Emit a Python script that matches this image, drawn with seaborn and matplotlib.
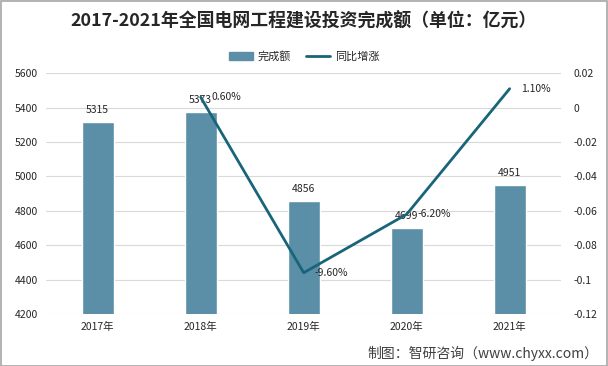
import seaborn as sns
import matplotlib.pyplot as plt
import pandas as pd
from matplotlib.patches import Patch
from matplotlib.lines import Line2D

years = ['2017年', '2018年', '2019年', '2020年', '2021年']
amount = [5315, 5373, 4856, 4699, 4951]
growth_years = ['2018年', '2019年', '2020年', '2021年']
growth = [0.006, -0.096, -0.062, 0.011]
growth_labels = ['0.60%', '-9.60%', '-6.20%', '1.10%']

sns.set_style('white')
plt.rcParams['font.family'] = ['Noto Sans CJK SC', 'DejaVu Sans']
plt.rcParams['axes.unicode_minus'] = False

bar_color = '#5b8fa8'
line_color = '#18657a'

df = pd.DataFrame({'year': years, 'amount': amount})

fig = plt.figure(figsize=(6.08, 3.66), dpi=100)
ax = fig.add_axes([0.076, 0.142, 0.847, 0.658])

sns.barplot(data=df, x='year', y='amount', color=bar_color, width=0.31,
            saturation=1, ax=ax, zorder=2)
ax.set_ylim(4200, 5600)
ax.set_yticks(range(4200, 5601, 200))
ax.grid(axis='y', color='#d9d9d9', linewidth=0.8, zorder=0)
ax.set_axisbelow(True)
ax.set_xlabel('')
ax.set_ylabel('')
ax.tick_params(axis='both', labelsize=7.5, length=0, pad=6)
for s in ax.spines.values():
    s.set_visible(False)
for i, v in enumerate(amount):
    ax.annotate(str(v), (i, v), xytext=(0, 5), textcoords='offset points',
                ha='center', va='bottom', fontsize=7.5)

ax2 = ax.twinx()
xpos = [years.index(y) for y in growth_years]
sns.lineplot(x=xpos, y=growth, color=line_color, linewidth=2, ax=ax2)
ax2.set_ylim(-0.12, 0.02)
ax2.set_yticks([-0.12, -0.1, -0.08, -0.06, -0.04, -0.02, 0, 0.02])
ax2.set_yticklabels(['-0.12', '-0.1', '-0.08', '-0.06', '-0.04', '-0.02', '0', '0.02'])
ax2.tick_params(axis='y', labelsize=7.5, length=0, pad=9)
ax2.set_ylabel('')
for s in ax2.spines.values():
    s.set_visible(False)
for x, v, t in zip(xpos, growth, growth_labels):
    ax2.annotate(t, (x, v), xytext=(8, 0), textcoords='offset points',
                 ha='left', va='center', fontsize=7.5)
ax.set_xlim(-0.5, 4.5)

fig.suptitle('2017-2021年全国电网工程建设投资完成额（单位：亿元）',
             y=0.965, fontsize=12.9, fontweight='bold')

handles = [Patch(color=bar_color), Line2D([], [], color=line_color, linewidth=2)]
fig.legend(handles, ['完成额', '同比增涨'], loc='center', bbox_to_anchor=(0.5, 0.845),
           ncol=2, frameon=False, fontsize=8, handlelength=2.2, columnspacing=1.3,
           handletextpad=0.4)

fig.text(0.985, 0.035, '制图：智研咨询（www.chyxx.com）', ha='right', va='center',
         fontsize=10, color='#404040')
fig.patches.append(plt.Rectangle((0.001, 0.001), 0.997, 0.997, transform=fig.transFigure,
                                 fill=False, edgecolor='#a6a6a6', linewidth=1.2))

fig.savefig('out.png', dpi=100)
